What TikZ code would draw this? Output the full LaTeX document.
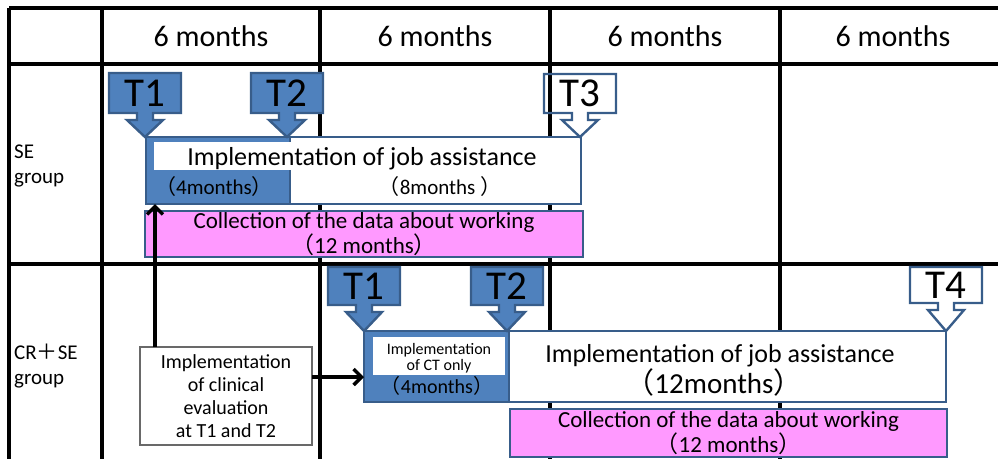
\documentclass[tikz,border=0pt]{standalone}
\usepackage{fontspec}
\setmainfont{Carlito}
\newfontfamily\cjk{Noto Sans CJK JP}
\usetikzlibrary{arrows.meta}

\definecolor{tblue}{RGB}{79,129,189}
\definecolor{tedge}{RGB}{56,93,138}
\definecolor{tpink}{RGB}{255,153,255}
\definecolor{tgray}{RGB}{105,105,105}

% full-width brackets and plus sign
\newcommand\fwl{{\cjk （}}
\newcommand\fwr{{\cjk ）}}
\newcommand\fwplus{{\cjk ＋}}

\newcommand\fs[2]{\fontsize{#1}{#2}\selectfont}

% down-arrow callout: centre x, box top, box bottom, tip y, style, name, label
\newcommand\tcallout[7]{%
  \draw[#5] ({#1-36},#2) -- ({#1+36},#2) -- ({#1+36},#3) -- ({#1+8},#3)
    -- ({#1+8},{#3+7}) -- ({#1+18},{#3+7}) -- (#1,#4) -- ({#1-18},{#3+7})
    -- ({#1-8},{#3+7}) -- ({#1-8},#3) -- ({#1-36},#3) -- cycle;
  \node[calltext] (#6) at (#1,{(#2+#3)/2}) {#7};
}

\begin{document}
\begin{tikzpicture}[x=1pt,y=-1pt,
  grid/.style={line width=3.2pt,black},
  fullcall/.style={fill=tblue,draw=tedge,line width=2.4pt,line join=miter},
  opencall/.style={draw=tedge,line width=2.4pt,line join=miter},
  calltext/.style={font=\fs{41}{41},inner sep=0pt},
  boxbase/.style={rectangle,inner sep=0pt,outer sep=0pt,anchor=north west,line width=2.4pt},
  bluebox/.style={boxbase,fill=tblue,draw=tedge},
  whitebox/.style={boxbase,fill=white,draw=tedge},
  pinkbox/.style={boxbase,fill=tpink,draw=tedge,align=center,font=\fs{23}{25}},
  plainwhite/.style={boxbase,fill=white,line width=0pt},
  head/.style={font=\fs{30}{30}},
  grouplabel/.style={font=\fs{21}{25},align=left,anchor=west,inner sep=0pt},
  note/.style={boxbase,fill=white,draw=tgray,line width=1.6pt,align=center,font=\fs{20}{23}},
  link/.style={line width=3.6pt,-{Straight Barb[length=8pt,width=16pt,line width=3.4pt]}}
]
\useasboundingbox (0,0) rectangle (998,459);

% table grid
\draw[grid] (9,8) -- (998,8);
\draw[grid] (9,64) -- (998,64);
\draw[grid] (9,264) -- (998,264);
\foreach \gx in {9,102,320,550,780} \draw[grid] (\gx,8) -- (\gx,459);

% column headings
\node[head] (h1) at (211,36) {6 months};
\node[head] (h2) at (435,36) {6 months};
\node[head] (h3) at (665,36) {6 months};
\node[head] (h4) at (893,36) {6 months};

% group labels
\node[grouplabel] (gse) at (14,166) {SE\\group};
\node[grouplabel] (gcr) at (14,366) {CR\fwplus SE\\group};

% ---- SE group ----
\node[whitebox,minimum width=291pt,minimum height=67pt] (sejob) at (290,137) {};
\node[bluebox,minimum width=144pt,minimum height=67pt] (seblue) at (146,137) {};
\node[plainwhite,minimum width=424pt,minimum height=28pt] (sewhite) at (154,142) {};
\node[font=\fs{26}{26}] (sejobtxt) at (362,159) {Implementation of job assistance};
\node[font=\fs{21}{21}] (se4m) at (214,187) {\fwl 4months\fwr};
\node[font=\fs{21}{21}] (se8m) at (440,187) {\fwl 8months \fwr};
\node[pinkbox,minimum width=438pt,minimum height=46pt] (sedata) at (145,211)
  {Collection of the data about working\\\fwl 12 months\fwr};

\tcallout{145}{73}{113}{137}{fullcall}{set1}{T1}
\tcallout{287}{73}{113}{137}{fullcall}{set2}{T2}
\tcallout{580}{74}{113}{137}{opencall}{set3}{T3}

% ---- CR+SE group ----
\node[whitebox,minimum width=437pt,minimum height=71pt] (crjob) at (509,331) {};
\node[bluebox,minimum width=145pt,minimum height=71pt] (ctblue) at (364,331) {};
\node[plainwhite,minimum width=132pt,minimum height=38pt] (ctwhite) at (373,337) {};
\node[font=\fs{16}{16},align=center] (cttxt) at (439,358) {Implementation\\of CT only};
\node[font=\fs{20}{20}] (ct4m) at (437,386) {\fwl 4months\fwr};
\node[font=\fs{26}{26}] (crjobtxt) at (720,356) {Implementation of job assistance};
\node[font=\fs{29}{29}] (cr12m) at (714,382) {\fwl 12months\fwr};
\node[pinkbox,minimum width=437pt,minimum height=48pt] (crdata) at (510,409)
  {Collection of the data about working\\\fwl 12 months\fwr};

\tcallout{364}{267}{305}{331}{fullcall}{crt1}{T1}
\tcallout{507}{267}{305}{331}{fullcall}{crt2}{T2}
\tcallout{946}{267}{303}{331}{opencall}{crt4}{T4}

% clinical evaluation note and its links
\node[note,minimum width=172pt,minimum height=98pt] (clin) at (140,347)
  {Implementation\\of clinical\\evaluation\\at T1 and T2};
\coordinate (hrow) at (0,377);
\draw[link] ([xshift=15pt]clin.north west) -- ([xshift=15pt]clin.north west |- seblue.south);
\draw[link] (clin.east |- hrow) -- (ctblue.west |- hrow);
\end{tikzpicture}
\end{document}
